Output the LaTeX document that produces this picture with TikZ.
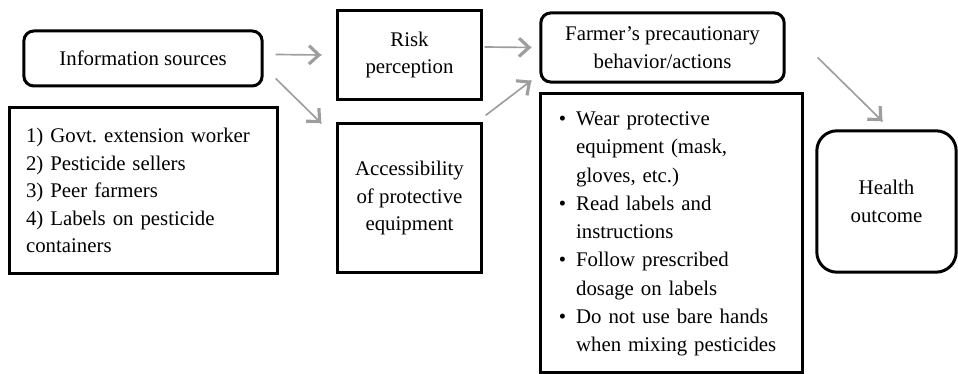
\documentclass[tikz,border=0pt]{standalone}
\usepackage{fontspec}
\setmainfont{Liberation Serif}
\usetikzlibrary{calc}
\usetikzlibrary{arrows.meta,decorations.markings}
\definecolor{arrowgray}{RGB}{158,158,158}
\tikzset{
    plainbox/.style={draw=black, line width=1.8pt, inner sep=0pt, align=center},
    roundbox/.style={plainbox, rounded corners=6pt},
    listbox/.style={plainbox, align=left, inner xsep=10.2pt},
    flow arrow/.style={line width=1pt, arrowgray,
        decoration={markings,mark=at position 1 with {\arrow{Straight Barb[length=6pt,width=11pt,line width=1.9pt]}}},
        postaction={decorate}}
}

\begin{document}
\begin{tikzpicture}[x=0.6pt, y=-0.6pt, every node/.style={font=\fontsize{12.5}{16.5}\selectfont}]
			\useasboundingbox (0,0) rectangle (958,374);

			\node[roundbox, minimum width=143pt, minimum height=33pt] (info) at (143,58.5) {Information sources};
			\node[listbox, text width=140.4pt, minimum height=100pt] (sources) at ($(info)+(0,132)$)
				{1) Govt.\ extension worker\\2) Pesticide sellers\\3) Peer farmers\\4) Labels on pesticide\\containers};

			\node[plainbox, minimum width=86pt, minimum height=53pt] (risk) at ($(info)+(266.5,-3.5)$) {Risk\\perception};
			\node[plainbox, minimum width=86pt, minimum height=89pt] (access) at ($(risk)+(0,143)$)
				{Accessibility\\of protective\\equipment};

			\node[roundbox, minimum width=146pt, minimum height=41.5pt] (farmer) at ($(risk)+(253,-7.5)$)
				{Farmer's precautionary\\behavior/actions};
			\node[listbox, inner xsep=10.8pt, text width=135.2pt, minimum height=167pt] (actions) at ($(farmer)+(9,185.5)$)
				{\renewcommand{\arraystretch}{1.03}%
				\begin{tabular}{@{}l@{\hspace{6pt}}l@{}}
					\textbullet & Wear protective\\
					 & equipment (mask,\\
					 & gloves, etc.)\\
					\textbullet & Read labels and\\
					 & instructions\\
					\textbullet & Follow prescribed\\
					 & dosage on labels\\
					\textbullet & Do not use bare hands\\
					 & when mixing pesticides
				\end{tabular}};

			\node[plainbox, rounded corners=12pt, minimum width=83.6pt, minimum height=84.8pt] (health) at ($(actions)+(215,-31.5)$)
				{Health\\outcome};

			%arrows between the boxes
			\draw[flow arrow] ($(info.east)+(12,-4)$) -- ($(risk.west)+(-15,0)$);
			\draw[flow arrow] ($(info.south east)+(12,-9)$) -- ($(access.north west)+(-15,1)$);
			\draw[flow arrow] ($(risk.east)+(2,-8)$) -- ($(farmer.west)+(-8,0)$);
			\draw[flow arrow] ($(access.north east)+(3,-7)$) -- ($(farmer.south west)+(-8,-3)$);
			\draw[flow arrow] ($(farmer.east)+(32,10)$) -- ($(health.north)+(-4,-8)$);

		\end{tikzpicture}
\end{document}
